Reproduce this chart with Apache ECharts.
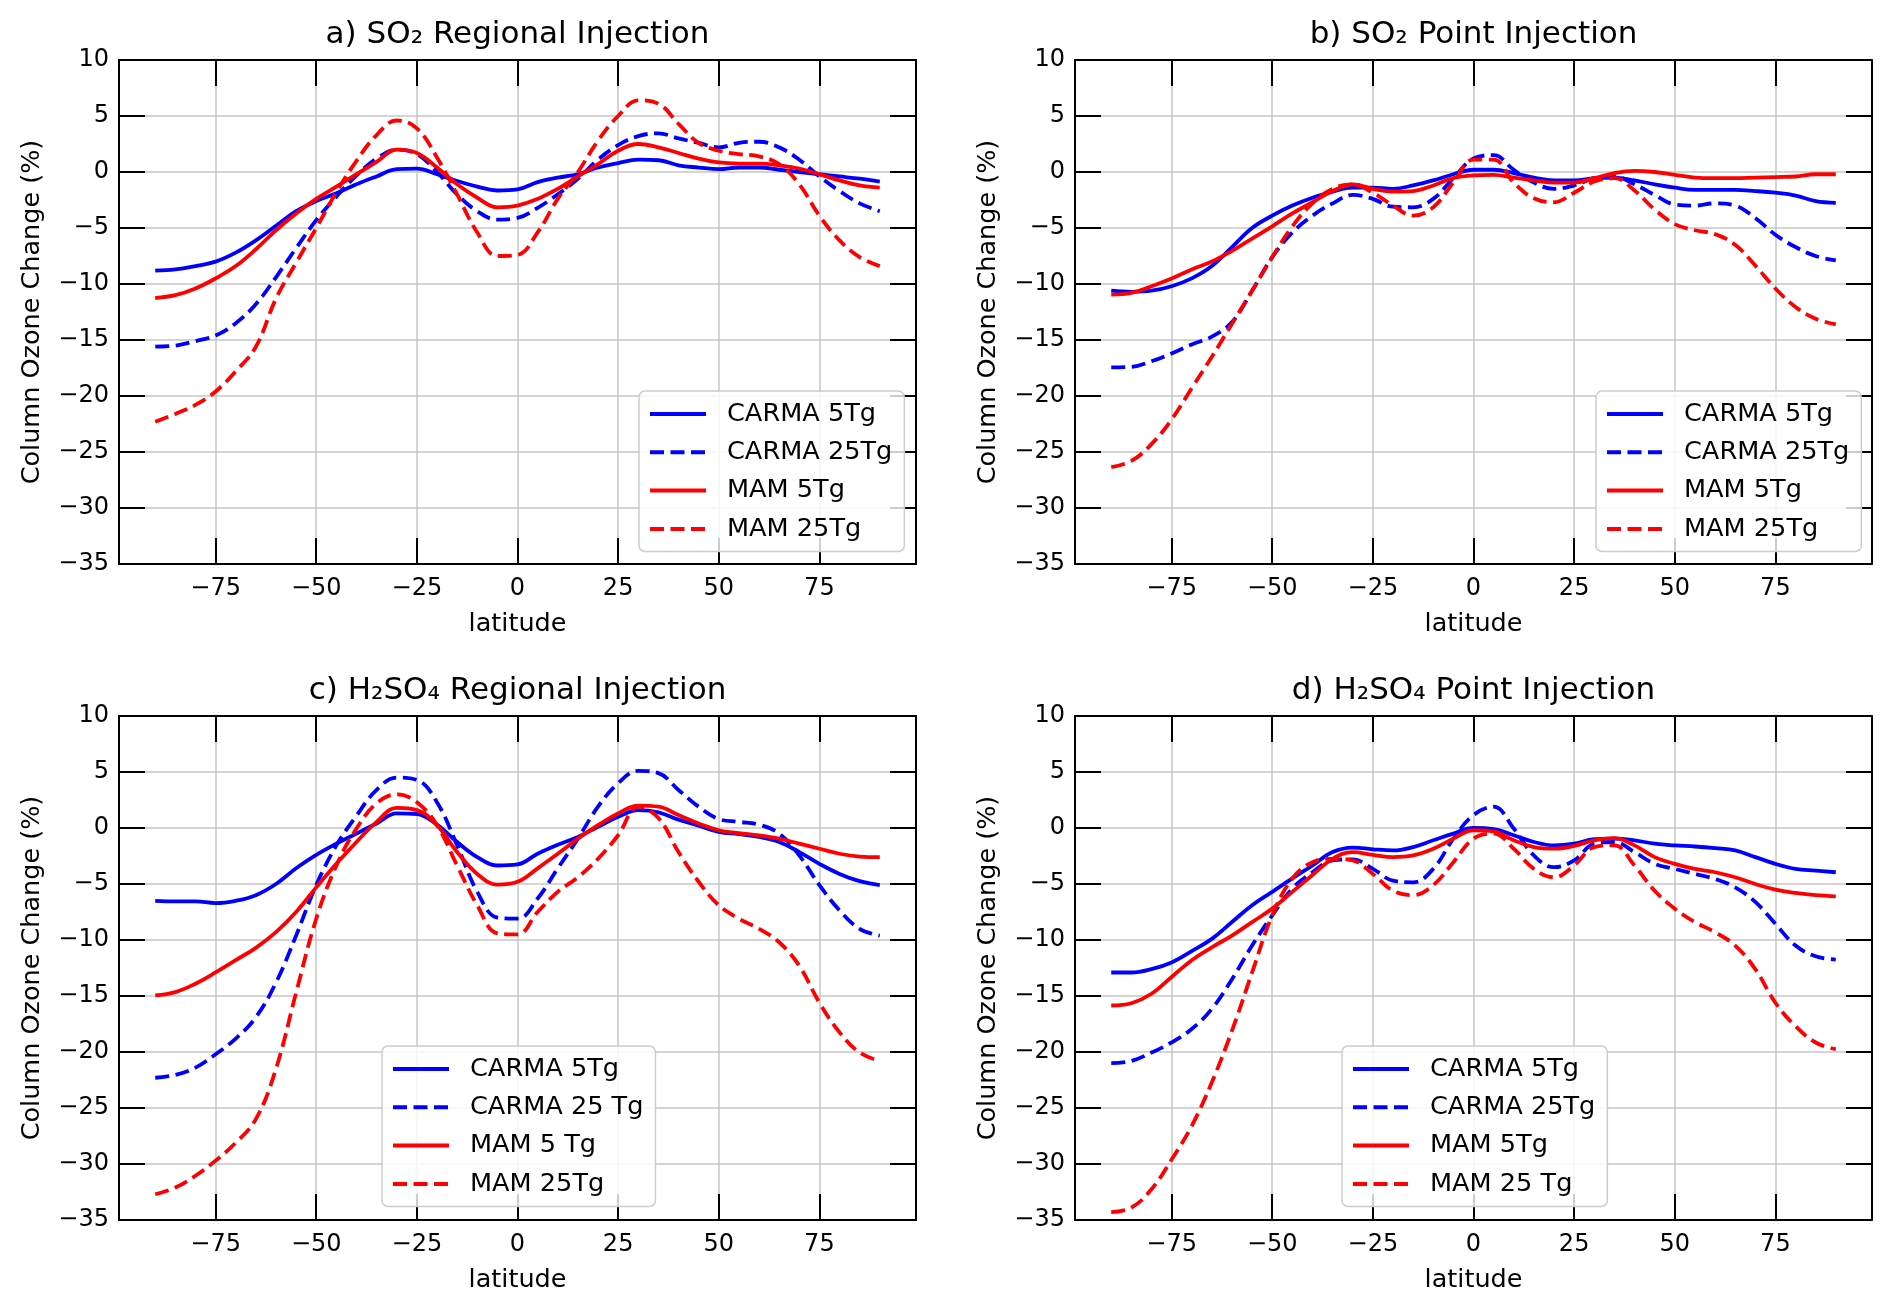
<!DOCTYPE html>
<html><head><meta charset="utf-8">
<script src="https://cdn.jsdelivr.net/npm/echarts@6.0.0/dist/echarts.min.js"></script>
<style>html,body{margin:0;padding:0;background:#fff}#c{width:1892px;height:1306px}</style>
</head><body><div id="c"></div>
<script>
// ---------- data ----------
const lat = [-90,-85,-80,-75,-70,-65,-60,-55,-50,-45,-40,-35,-30,-25,-20,-15,-10,-5,0,5,10,15,20,25,30,35,40,45,50,55,60,65,70,75,80,85,90];
const xTicks = [-75,-50,-25,0,25,50,75];

const a_carma5  = [-8.8,-8.7,-8.4,-8.0,-7.2,-6.1,-4.8,-3.5,-2.6,-1.9,-1.1,-0.4,0.25,0.3,-0.2,-0.8,-1.3,-1.65,-1.55,-0.9,-0.5,-0.2,0.4,0.8,1.1,1.05,0.6,0.4,0.25,0.4,0.4,0.2,0,-0.2,-0.4,-0.6,-0.85];
const a_carma25 = [-15.6,-15.5,-15.1,-14.6,-13.5,-11.8,-9.4,-6.8,-4.3,-2.2,-0.3,1.2,2.0,1.6,0,-2.0,-3.5,-4.25,-4.1,-3.2,-2.0,-0.6,1.1,2.4,3.2,3.45,3.0,2.6,2.2,2.6,2.7,2.2,1.1,-0.4,-1.7,-2.8,-3.5];
const a_mam5    = [-11.25,-11.0,-10.4,-9.5,-8.4,-6.9,-5.2,-3.7,-2.4,-1.3,-0.2,0.9,2.0,1.7,0.4,-1.1,-2.3,-3.15,-3.0,-2.4,-1.5,-0.4,0.7,1.9,2.5,2.2,1.7,1.2,0.85,0.75,0.75,0.6,0.3,-0.2,-0.75,-1.2,-1.4];
const a_mam25   = [-22.3,-21.6,-20.8,-19.6,-17.8,-15.6,-11.3,-8.1,-5.0,-1.8,1.0,3.3,4.6,3.9,1.3,-2.0,-5.4,-7.5,-7.4,-5.4,-2.4,0,2.8,5.0,6.4,6.1,4.3,2.6,1.9,1.6,1.4,0.7,-1.1,-3.9,-6.1,-7.6,-8.4];

const b_carma5  = [-10.6,-10.7,-10.6,-10.2,-9.5,-8.4,-6.7,-5.0,-3.9,-3.0,-2.3,-1.75,-1.4,-1.4,-1.5,-1.2,-0.75,-0.2,0.2,0.2,-0.1,-0.5,-0.75,-0.75,-0.55,-0.5,-0.75,-1.1,-1.4,-1.6,-1.6,-1.6,-1.7,-1.85,-2.1,-2.6,-2.75];
const b_carma25 = [-17.45,-17.4,-16.9,-16.2,-15.4,-14.7,-13.4,-10.6,-7.6,-5.4,-3.9,-2.8,-2.05,-2.4,-3.1,-3.15,-2.4,-0.55,1.2,1.5,0.2,-0.95,-1.5,-1.2,-0.55,-0.4,-1.1,-2.05,-2.9,-3.0,-2.8,-3.0,-4.1,-5.6,-6.7,-7.5,-7.9];
const b_mam5    = [-10.95,-10.8,-10.2,-9.5,-8.7,-8.0,-7.05,-5.95,-4.85,-3.7,-2.7,-1.7,-1.1,-1.5,-1.75,-1.7,-1.2,-0.55,-0.3,-0.25,-0.5,-0.75,-0.95,-0.95,-0.55,-0.1,0.1,0,-0.25,-0.5,-0.55,-0.55,-0.5,-0.45,-0.4,-0.2,-0.2];
const b_mam25   = [-26.35,-25.8,-24.3,-22.1,-19.3,-16.5,-13.55,-10.6,-7.6,-4.85,-2.8,-1.5,-1.1,-1.85,-3.0,-3.9,-3.15,-0.95,1.1,1.1,-0.95,-2.35,-2.7,-1.85,-0.85,-0.55,-1.65,-3.35,-4.65,-5.2,-5.55,-6.5,-8.35,-10.4,-12.05,-13.1,-13.6];

const c_carma5  = [-6.5,-6.55,-6.55,-6.7,-6.5,-6.0,-5.0,-3.6,-2.4,-1.4,-0.5,0.4,1.3,1.25,0.3,-1.25,-2.6,-3.35,-3.25,-2.3,-1.5,-0.8,0.1,1.0,1.6,1.4,0.75,0.2,-0.35,-0.55,-0.8,-1.25,-2.15,-3.2,-4.1,-4.75,-5.1];
const c_carma25 = [-22.3,-22.05,-21.4,-20.2,-18.8,-16.9,-13.8,-9.6,-5.1,-1.55,1.1,3.4,4.5,4.3,2.3,-1.55,-5.7,-8.0,-8.1,-6.3,-3.6,-0.95,1.9,4.0,5.1,4.9,3.4,1.9,0.8,0.55,0.3,-0.5,-2.45,-5.1,-7.35,-9.0,-9.6];
const c_mam5    = [-14.95,-14.65,-13.9,-12.9,-11.8,-10.7,-9.3,-7.5,-5.3,-3.2,-1.25,0.55,1.8,1.6,0.25,-2.15,-4.1,-5.05,-4.8,-3.6,-2.3,-0.95,0.25,1.3,2.0,1.9,1.15,0.4,-0.2,-0.45,-0.65,-0.95,-1.4,-1.85,-2.3,-2.55,-2.6];
const c_mam25   = [-32.7,-32.1,-31.05,-29.7,-28.1,-26.0,-21.5,-14.7,-8.1,-3.35,-0.05,2.2,3.0,2.3,0.25,-3.35,-6.9,-9.4,-9.5,-7.5,-5.7,-4.4,-2.75,-0.65,1.9,0.9,-2.15,-4.8,-6.9,-8.1,-9.0,-10.2,-12.3,-15.6,-18.25,-20.05,-20.8];

const d_carma5  = [-12.9,-12.9,-12.6,-12.0,-11.0,-9.9,-8.4,-6.9,-5.7,-4.5,-3.35,-2.15,-1.75,-1.9,-2.0,-1.7,-1.1,-0.5,0,-0.1,-0.65,-1.25,-1.55,-1.4,-1.0,-0.95,-1.1,-1.4,-1.55,-1.65,-1.8,-2.0,-2.6,-3.2,-3.65,-3.8,-3.95];
const d_carma25 = [-21.0,-20.8,-20.05,-19.15,-17.95,-16.15,-13.5,-10.5,-7.8,-5.4,-3.95,-2.9,-2.8,-3.65,-4.7,-4.85,-3.65,-0.95,1.15,1.9,-0.05,-2.45,-3.5,-2.9,-1.4,-1.25,-2.15,-3.2,-3.65,-4.1,-4.55,-5.3,-6.6,-8.55,-10.5,-11.45,-11.75];
const d_mam5    = [-15.85,-15.65,-14.8,-13.3,-11.8,-10.65,-9.6,-8.4,-7.2,-5.7,-4.2,-2.75,-2.15,-2.4,-2.6,-2.45,-1.85,-0.95,-0.2,-0.3,-1.1,-1.7,-1.85,-1.6,-1.1,-0.9,-1.55,-2.6,-3.2,-3.65,-3.95,-4.4,-5.0,-5.5,-5.8,-6.0,-6.1];
const d_mam25   = [-34.3,-33.9,-32.25,-29.6,-26.6,-22.7,-18.1,-12.9,-7.8,-4.5,-3.05,-2.75,-2.9,-4.1,-5.6,-6.0,-5.1,-3.05,-0.95,-0.5,-1.85,-3.65,-4.4,-3.35,-1.7,-1.55,-3.35,-5.6,-7.2,-8.4,-9.3,-10.5,-12.6,-15.6,-17.7,-19.15,-19.75];

const titles = ['a) SO\u2082 Regional Injection','b) SO\u2082 Point Injection','c) H\u2082SO\u2084 Regional Injection','d) H\u2082SO\u2084 Point Injection'];
const legendNames = [
  ['CARMA 5Tg','CARMA 25Tg','MAM 5Tg','MAM 25Tg'],
  ['CARMA 5Tg','CARMA 25Tg','MAM 5Tg','MAM 25Tg'],
  ['CARMA 5Tg','CARMA 25 Tg','MAM 5 Tg','MAM 25Tg'],
  ['CARMA 5Tg','CARMA 25Tg','MAM 5Tg','MAM 25 Tg']
];
const panelData = [
  [a_carma5,a_carma25,a_mam5,a_mam25],
  [b_carma5,b_carma25,b_mam5,b_mam25],
  [c_carma5,c_carma25,c_mam5,c_mam25],
  [d_carma5,d_carma25,d_mam5,d_mam25]
];

// ---------- layout ----------
const FONT = 'DejaVu Sans';
const W = 797, H = 504;
const pos = [[119,60],[1075,60],[119,716],[1075,716]];
const legendPos = [[639,391],[1596,391],[382,1046],[1342,1046]];
const colors = ['#0000ff','#0000ff','#ff0000','#ff0000'];
const dashed = [false,true,false,true];
const fmt = v => String(v).replace('-', '\u2212');

const grid=[], xAxis=[], yAxis=[], series=[], legend=[], graphic=[];
const axisLine = {show:true, onZero:false, lineStyle:{color:'#000', width:2}};
const tick = {show:true, inside:true, length:26, lineStyle:{color:'#000', width:2}};
const split = {show:true, lineStyle:{color:'#c6c6c6', width:1.5}};
const lbl = {color:'#000', fontSize:24, fontFamily:FONT};

pos.forEach((p,i)=>{
  grid.push({left:p[0], top:p[1], width:W, height:H, containLabel:false, outerBoundsMode:'none'});
  xAxis.push({gridIndex:i, type:'value', min:-99, max:99, position:'bottom', axisLine,
    axisTick:Object.assign({}, tick, {customValues:xTicks}),
    axisLabel:Object.assign({}, lbl, {customValues:xTicks, formatter:fmt, margin:13}),
    splitLine:split,
    name:'latitude', nameLocation:'middle', nameGap:47,
    nameTextStyle:{color:'#000', fontSize:25.5, fontFamily:FONT}});
  xAxis.push({gridIndex:i, type:'value', min:-99, max:99, position:'top', axisLine,
    axisTick:Object.assign({}, tick, {customValues:xTicks}),
    axisLabel:{show:false}, splitLine:{show:false}});
  yAxis.push({gridIndex:i, type:'value', min:-35, max:10, interval:5, position:'left', axisLine,
    axisTick:tick, axisLabel:Object.assign({}, lbl, {formatter:fmt, margin:10}), splitLine:split,
    name:'Column Ozone Change (%)', nameLocation:'middle', nameGap:74, nameRotate:90,
    nameTextStyle:{color:'#000', fontSize:25.5, fontFamily:FONT}});
  yAxis.push({gridIndex:i, type:'value', min:-35, max:10, interval:5, position:'right', axisLine,
    axisTick:tick, axisLabel:{show:false}, splitLine:{show:false}});

  panelData[i].forEach((arr,k)=>{
    series.push({type:'line', name:legendNames[i][k], xAxisIndex:2*i, yAxisIndex:2*i,
      data: lat.map((x,j)=>[x, arr[j]]), symbol:'none', smooth:0.4, animation:false,
      lineStyle:{color:colors[k], width:3.8, type: dashed[k] ? [14,6.5] : 'solid'},
      itemStyle:{color:colors[k]}, z:3});
  });

  legend.push({data:legendNames[i], orient:'vertical', left:legendPos[i][0], top:legendPos[i][1],
    itemWidth:56, itemHeight:4, itemGap:10.3, padding:[9,12,8.5,9],
    backgroundColor:'rgba(255,255,255,0.8)', borderColor:'#cccccc', borderWidth:1.5, borderRadius:6,
    selectedMode:false, lineStyle:{width:4}, itemStyle:{opacity:0},
    textStyle:{fontSize:25.6, fontFamily:FONT, color:'#000', lineHeight:28, padding:[0,0,0,16]}});

  graphic.push({type:'text', x:p[0]+W/2, y:p[1]-25, z:10,
    style:{text:titles[i], fontSize:31, fontFamily:FONT, fill:'#000',
      align:'center', verticalAlign:'middle', textAlign:'center', textVerticalAlign:'middle'}});
});

const chart = echarts.init(document.getElementById('c'), null, {renderer:'canvas'});
chart.setOption({animation:false, backgroundColor:'#fff', grid, xAxis, yAxis, series, legend, graphic});
</script>
</body></html>
